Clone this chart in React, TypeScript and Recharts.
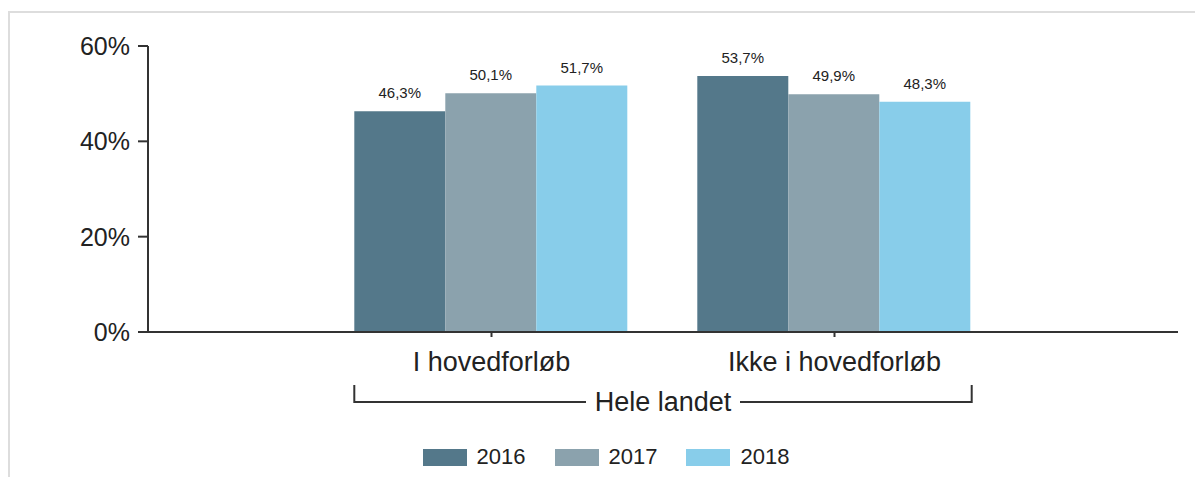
import React from "react";
import { BarChart, Bar, XAxis, YAxis, Legend, LabelList } from "recharts";

const categories = ["I hovedforløb", "Ikke i hovedforløb"];
const groupLabel = "Hele landet";
const years = ["2016", "2017", "2018"];
const values2016 = [46.3, 53.7];
const values2017 = [50.1, 49.9];
const values2018 = [51.7, 48.3];
const yTicks = [0, 20, 40, 60];

const colors = ["#54788a", "#8ba2ad", "#88cdea"];
const FONT = "'Liberation Sans', Arial, sans-serif";
const TEXT = "#222";

// layout
const W = 1185;
const H = 464;
const Y_AXIS_W = 138;
const MARGIN = { top: 33, right: 17, left: 0, bottom: 8 };
const X_PAD = 172;
const GAP = 0.1;
const PLOT_W = W - MARGIN.left - MARGIN.right - Y_AXIS_W;
const BAND = (PLOT_W - 2 * X_PAD) / categories.length;
const BRACKET_HALF = BAND - BAND * GAP;

const data = categories.map((c, i) => ({
  name: c,
  group: groupLabel,
  "2016": values2016[i],
  "2017": values2017[i],
  "2018": values2018[i],
}));

const fmt = (v: any) => `${Number(v).toFixed(1).replace(".", ",")}%`;

function GroupTick(props: any) {
  const { x, y, payload } = props;
  const h = 17;
  const gap = 77;
  return (
    <g>
      <path
        d={`M${x - BRACKET_HALF},${y} V${y + h} H${x - gap} M${x + gap},${y + h} H${x + BRACKET_HALF} V${y}`}
        stroke="#333"
        strokeWidth={2}
        fill="none"
      />
      <text
        x={x}
        y={y + h}
        textAnchor="middle"
        dominantBaseline="central"
        fontSize={27}
        fontFamily={FONT}
        fill={TEXT}
      >
        {payload.value}
      </text>
    </g>
  );
}

function LegendContent() {
  return (
    <div
      style={{
        display: "flex",
        justifyContent: "center",
        alignItems: "center",
        height: 24,
        paddingLeft: 7,
        fontFamily: FONT,
        fontSize: 22,
        color: TEXT,
      }}
    >
      {years.map((y, i) => (
        <div
          key={y}
          style={{ display: "flex", alignItems: "center", marginRight: i < years.length - 1 ? 29 : 0 }}
        >
          <span style={{ width: 44, height: 17, background: colors[i], marginRight: 10, display: "inline-block" }} />
          <span>{y}</span>
        </div>
      ))}
    </div>
  );
}

export default function App() {
  return (
    <div style={{ paddingTop: 3 }}>
      <div style={{ borderTop: "2px solid #dddddd", borderLeft: "2px solid #dddddd", width: W }}>
        <BarChart
          width={W}
          height={H}
          data={data}
          margin={MARGIN}
          barCategoryGap={`${GAP * 100}%`}
          barGap={0}
        >
          <XAxis
            dataKey="name"
            height={53}
            padding={{ left: X_PAD, right: X_PAD }}
            stroke="#333"
            axisLine={{ stroke: "#333", strokeWidth: 2 }}
            tickLine={{ stroke: "#333", strokeWidth: 2 }}
            tickSize={5}
            tickMargin={15}
            tick={{ fontSize: 27, fill: TEXT, fontFamily: FONT }}
          />
          <XAxis
            xAxisId="group"
            dataKey="group"
            allowDuplicatedCategory={false}
            height={60}
            padding={{ left: X_PAD, right: X_PAD }}
            axisLine={false}
            tickLine={false}
            tickSize={0}
            tickMargin={0}
            tick={<GroupTick />}
          />
          <YAxis
            width={Y_AXIS_W}
            domain={[0, 60]}
            ticks={yTicks}
            tickFormatter={(v) => `${v}%`}
            axisLine={{ stroke: "#333", strokeWidth: 2 }}
            tickLine={{ stroke: "#333", strokeWidth: 2 }}
            tickSize={10}
            tickMargin={8}
            tick={{ fontSize: 25, fill: TEXT, fontFamily: FONT }}
          />
          <Legend
            verticalAlign="bottom"
            content={<LegendContent />}
            wrapperStyle={{ left: 0, width: W, height: 24 }}
          />
          {years.map((y, i) => (
            <Bar key={y} dataKey={y} fill={colors[i]} isAnimationActive={false}>
              <LabelList
                dataKey={y}
                position="top"
                offset={13}
                formatter={fmt}
                style={{ fontSize: 15, fill: TEXT, fontFamily: FONT }}
              />
            </Bar>
          ))}
        </BarChart>
      </div>
    </div>
  );
}
